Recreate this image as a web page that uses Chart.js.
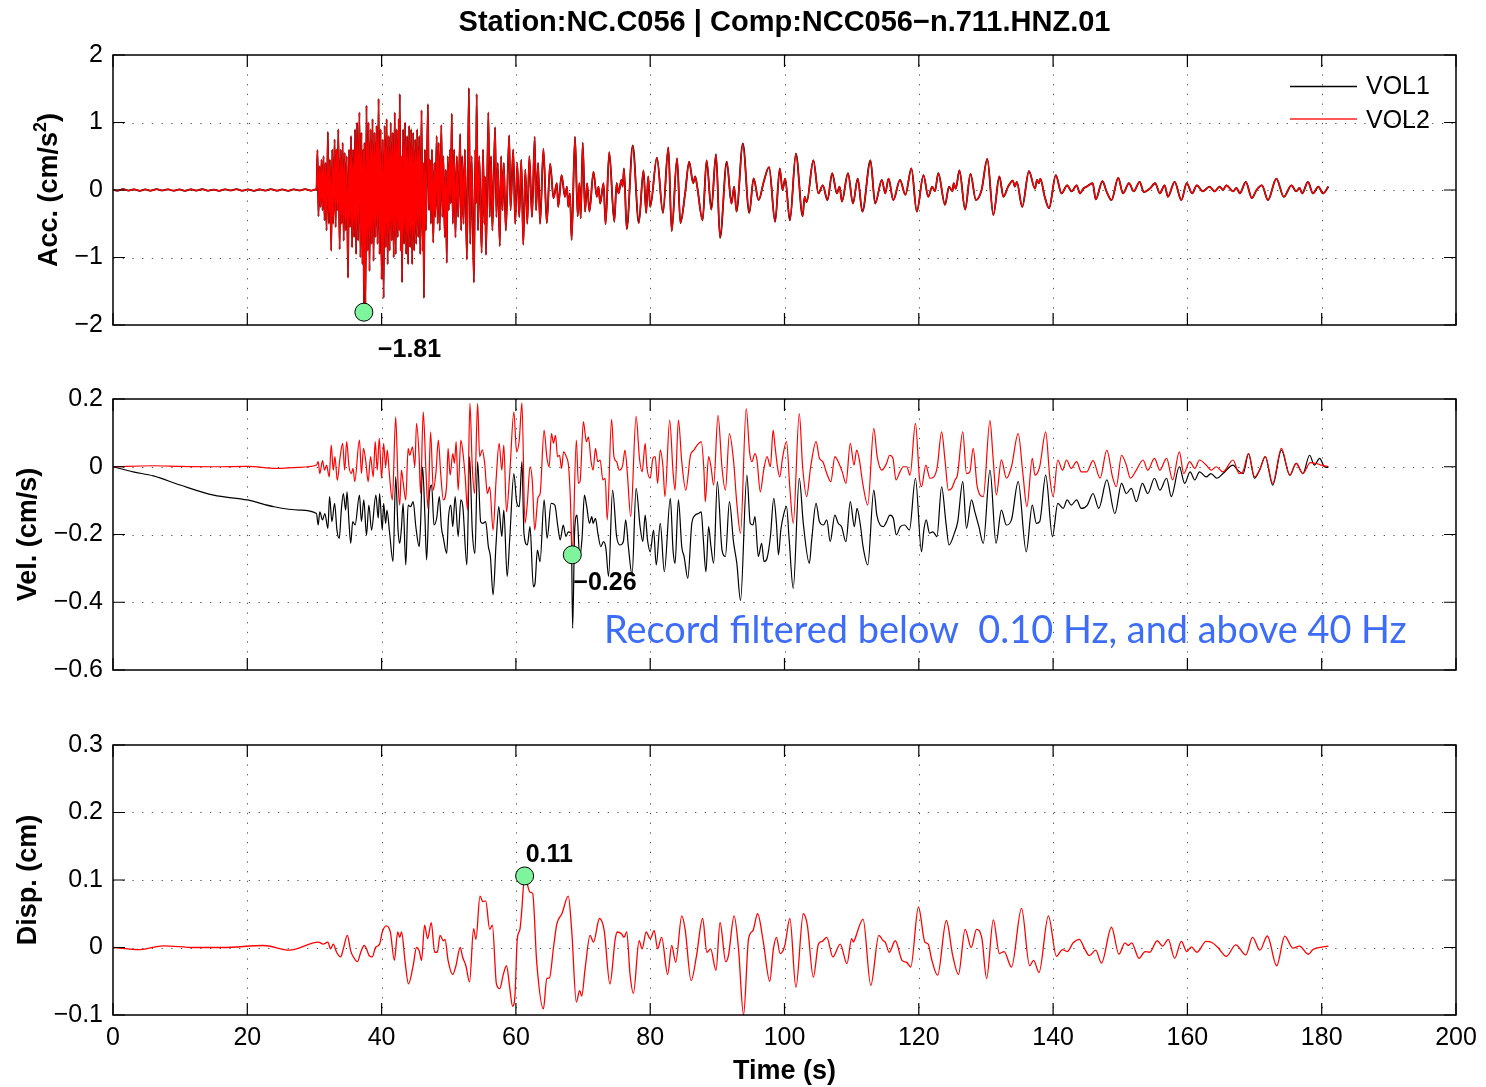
<!DOCTYPE html>
<html><head><meta charset="utf-8">
<script src="https://cdn.jsdelivr.net/npm/chart.js@4.4.1/dist/chart.umd.min.js"></script>
<style>
html,body{margin:0;padding:0;background:#fff;width:1486px;height:1087px;overflow:hidden;}
canvas{position:absolute;left:0;}
</style></head><body>
<canvas id="cAcc" width="1486" height="370" style="top:0px;width:1486px;height:370px"></canvas>
<canvas id="cVel" width="1486" height="345" style="top:370px;width:1486px;height:345px"></canvas>
<canvas id="cDisp" width="1486" height="372" style="top:715px;width:1486px;height:372px"></canvas>
<script>
// ---------- tick labels ----------
const timeTicks = [0,20,40,60,80,100,120,140,160,180,200];
const accTicks  = [-2,-1,0,1,2];
const velTicks  = [-0.6,-0.4,-0.2,0,0.2];
const dispTicks = [-0.1,0,0.1,0.2,0.3];

// ---------- text ----------
const titleText = 'Station:NC.C056 | Comp:NCC056\u2212n.711.HNZ.01';
const seriesNames = ['VOL1','VOL2'];
const noteText = 'Record filtered below  0.10 Hz, and above 40 Hz';

// ---------- peaks [time, value] ----------
const peakAcc  = [37.36, -1.81];
const peakVel  = [68.4, -0.26];
const peakDisp = [61.3, 0.106];

// ---------- acceleration (cm/s^2), [time, value] ----------
// VOL1 and VOL2 acceleration traces coincide in the picture (black only peeks out under the red)
const accVol2 = [
[0,0.005],[0.7,-0.01],[1.5,0.012],[2.3,-0.008],[3.1,0.01],[4,-0.012],[4.8,0.008],[5.6,-0.01],[6.5,0.012],[7.3,-0.006],
[8.2,0.01],[9,-0.01],[9.9,0.008],[10.7,-0.012],[11.6,0.01],[12.4,-0.008],[13.3,0.012],[14.1,-0.01],[15,0.006],[15.8,-0.012],
[16.7,0.01],[17.5,-0.006],[18.4,0.012],[19.2,-0.01],[20.1,0.008],[21,-0.012],[21.8,0.01],[22.7,-0.008],[23.5,0.012],[24.4,-0.01],
[25.2,0.008],[26.1,-0.012],[26.9,0.01],[27.8,-0.006],[28.6,0.012],[29.5,-0.01],[30.2,0.01],
[30.3,0],[30.45,0.59],[30.6,-0.39],[30.75,0.35],[30.9,-0.25],[31.05,0.45],[31.2,-0.3],[31.35,0.5],[31.5,-0.45],[31.65,0.4],
[31.8,-0.6],[32.0,0.86],[32.15,-0.5],[32.3,0.45],[32.5,-0.9],[32.65,0.6],[32.8,-0.5],[33.0,0.75],[33.15,-0.55],[33.3,0.6],
[33.45,-0.3],[33.55,0.9],[33.75,-0.88],[33.9,0.6],[34.05,-0.5],[34.2,0.7],[34.35,-0.75],[34.5,0.55],[34.65,-0.6],[34.8,0.5],
[35.0,-1.3],[35.15,0.6],[35.3,-0.55],[35.45,0.8],[35.6,-0.85],[35.75,0.6],[35.9,-0.7],[36.05,0.9],[36.2,-0.95],[36.35,1.0],
[36.5,-0.75],[36.7,1.15],[36.85,-1.0],[37.0,0.85],[37.15,-1.1],[37.28,0.6],[37.36,-1.81],[37.45,0.7],[37.6,-1.75],[37.75,1.25],
[37.9,-0.9],[38.05,1.0],[38.2,-1.2],[38.35,0.9],[38.5,-0.8],[38.65,1.05],[38.8,-1.05],[38.95,0.85],[39.1,-0.7],[39.25,0.95],
[39.4,-0.8],[39.55,1.35],[39.7,-0.95],[39.85,0.9],[40.0,-1.32],[40.15,0.75],[40.3,-1.6],[40.45,0.95],[40.6,-0.85],[40.75,1.05],
[40.9,-1.1],[41.05,0.8],[41.2,-0.9],[41.35,1.0],[41.5,-0.75],[41.65,0.85],[41.8,-1.0],[41.95,1.15],[42.1,-0.95],[42.25,0.9],
[42.4,-0.7],[42.55,1.05],[42.62,-0.6],[42.7,1.42],[42.85,-0.9],[42.95,0.5],[43.05,-1.37],[43.2,0.9],[43.35,-0.8],[43.5,1.0],
[43.65,-0.95],[43.8,0.8],[43.95,-1.1],[44.1,0.95],[44.25,-0.85],[44.4,0.9],[44.55,-1.1],[44.7,0.85],[44.85,-0.9],[45.0,0.75],
[45.15,-0.8],[45.3,0.9],[45.45,-0.7],[45.6,0.8],[45.75,-0.95],[45.95,1.18],[46.1,-0.9],[46.2,0.4],[46.3,-1.6],[46.45,0.6],
[46.6,-0.6],[46.9,1.27],[47.05,-0.3],[47.2,0.45],[47.35,-0.5],[47.5,0.6],[47.7,-0.78],[47.85,0.4],[48.0,-0.4],[48.2,0.8],
[48.35,-0.5],[48.5,0.7],[48.65,-0.6],[48.9,0.96],[49.05,-0.4],[49.2,0.5],[49.4,-0.7],[49.55,0.3],[49.7,-1.08],[49.85,0.5],
[50.0,-0.3],[50.2,0.6],[50.3,-0.2],[50.45,1.13],[50.6,-0.5],[50.8,0.6],[51.0,-0.7],[51.2,0.5],[51.4,-0.4],[51.7,0.83],
[51.85,-0.6],[52.0,0.5],[52.2,-0.5],[52.4,0.6],[52.7,-1.03],[53.0,1.51],[53.2,-0.8],[53.4,0.5],[53.75,-1.37],[53.95,0.6],
[54.05,-0.2],[54.15,1.42],[54.35,-0.6],[54.55,0.5],[54.9,-0.93],[55.1,0.6],[55.3,-0.5],[55.4,0.2],[55.55,-0.96],[55.9,1.15],
[56.1,-0.4],[56.3,0.5],[56.5,-0.6],[56.9,0.93],[57.1,-0.4],[57.3,0.4],[57.6,-0.83],[57.8,0.5],[58.0,-0.3],[58.2,0.4],
[58.5,-0.6],[59.0,0.81],[59.2,-0.3],[59.6,0.6],[59.9,-0.5],[60.2,0.4],[60.5,-0.4],[60.8,0.45],[61.1,-0.81],[61.4,0.3],
[61.7,-0.5],[62.0,0.5],[62.4,-0.4],[62.8,0.79],[63.0,-0.3],[63.3,0.4],[63.6,-0.5],[64.1,0.61],[64.6,-0.49],[65.1,0.39],
[65.6,-0.12],[66.1,0.1],[66.3,-0.25],[66.8,0.22],[67.3,-0.1],[67.6,0.05],[67.8,-0.25],[68.05,-0.05],[68.3,-0.74],[68.8,0.79],
[69.2,-0.39],[69.45,0.1],[69.65,-0.42],[69.95,0.7],[70.3,-0.32],[70.6,0.1],[70.95,-0.32],[71.55,0.27],[72.05,-0.1],[72.3,0.05],
[72.55,-0.2],[73.05,0.1],[73.35,-0.51],[73.9,0.56],[74.65,-0.47],[75.0,0.1],[75.3,-0.05],[75.7,0.15],[75.9,0.05],[76.1,0.32],
[76.5,-0.58],[77.4,0.66],[78.3,-0.49],[79.0,0.29],[79.4,-0.34],[79.7,0.2],[80.0,-0.25],[81.0,0.48],[81.9,-0.34],[82.7,0.63],
[83.2,-0.61],[84.0,0.47],[84.5,-0.49],[85.2,-0.05],[85.8,0.42],[86.4,0.1],[86.7,0.2],[87.0,0.05],[87.8,-0.45],[88.4,0.44],
[89.1,-0.29],[89.8,0.53],[90.4,-0.71],[91.4,0.42],[92.1,-0.2],[92.5,0.05],[92.85,-0.32],[93.8,0.69],[94.75,-0.34],[95.4,0.17],
[96.15,-0.15],[96.9,0.12],[97.7,0.34],[98.6,-0.47],[99.3,0.32],[99.7,0.0],[100.1,0.17],[100.8,-0.45],[101.7,0.54],[102.7,-0.39],
[103.0,-0.1],[103.3,-0.18],[104.3,0.44],[105.05,-0.05],[105.7,0.07],[106.4,-0.15],[107.1,0.25],[107.8,-0.05],[108.2,0.05],[108.55,-0.17],
[109.45,0.25],[110.2,-0.2],[110.9,0.17],[111.6,-0.32],[112.8,0.44],[113.5,-0.2],[114.5,0.15],[115.0,-0.05],[115.5,0.17],[116.2,-0.15],
[117.2,0.15],[118.0,-0.07],[118.9,0.32],[119.7,-0.32],[120.7,0.22],[121.4,-0.1],[122.0,0.05],[122.4,-0.02],[122.9,0.25],[123.9,-0.22],
[124.5,0.05],[125.0,-0.02],[125.2,0.1],[125.5,0.02],[126.05,0.29],[126.9,-0.29],[127.7,0.24],[128.5,-0.15],[129.35,0.0],[130.2,0.46],
[131.1,-0.37],[132.0,0.2],[132.6,-0.1],[133.3,0.05],[134.0,0.14],[134.3,0.05],[134.6,0.12],[135.4,-0.25],[136.4,0.28],[137.3,0.02],
[137.6,0.15],[137.9,0.1],[138.1,0.17],[138.75,-0.1],[139.4,-0.27],[140.4,0.22],[141.25,-0.05],[142.1,0.07],[142.75,-0.02],[143.5,0.07],
[144.0,-0.05],[144.5,0.02],[145.0,0.05],[145.9,0.1],[146.35,-0.14],[147.35,0.13],[147.95,-0.02],[148.7,-0.15],[149.7,0.18],[150.4,-0.05],
[151.3,0.1],[152.0,-0.02],[152.9,0.12],[153.5,-0.03],[154.4,0.02],[155.2,0.1],[155.9,-0.05],[156.6,0.07],[157.1,-0.1],[158.1,0.12],
[159.1,-0.15],[159.9,0.1],[160.7,-0.05],[161.4,0.07],[162.3,-0.02],[163.3,0.05],[164.05,-0.02],[164.8,0.05],[165.3,0.0],[165.8,0.07],
[166.8,-0.02],[167.3,0.03],[167.8,-0.05],[168.7,0.12],[169.6,-0.12],[170.3,0.0],[171.1,0.07],[172.0,-0.15],[173.25,0.17],[174.35,-0.1],
[175.5,0.07],[176.2,-0.02],[176.7,0.03],[177.1,-0.05],[177.95,0.12],[178.7,-0.05],[179.5,0.05],[180.2,-0.05],[181.0,0.05]
];
const accVol1 = accVol2;

// ---------- velocity (cm/s) ----------
const velVol1 = [
[0,0],[3,-0.015],[6,-0.027],[10,-0.054],[15,-0.084],[20,-0.098],[24,-0.118],[27.8,-0.128],[30.3,-0.138],[30.55,-0.172],
[30.8,-0.133],[31.2,-0.157],[31.55,-0.138],[32.0,-0.182],[32.25,-0.088],[32.6,-0.162],[33.0,-0.108],[33.35,-0.187],[33.7,-0.211],[34.0,-0.128],
[34.3,-0.079],[34.65,-0.128],[34.85,-0.074],[35.15,-0.167],[35.4,-0.226],[35.7,-0.162],[36.05,-0.172],[36.7,-0.084],[37.0,-0.162],[37.35,-0.098],
[37.75,-0.202],[38.1,-0.113],[38.5,-0.187],[39.15,-0.084],[39.5,-0.152],[39.7,-0.079],[40.1,-0.187],[40.3,-0.108],[40.6,-0.167],[40.8,-0.128],
[41.2,-0.197],[41.7,-0.28],[42.1,-0.029],[42.45,-0.187],[42.7,-0.226],[42.95,-0.182],[43.2,-0.108],[43.6,-0.29],[43.95,-0.113],[44.3,-0.118],
[44.7,-0.103],[45.1,-0.177],[45.6,-0.236],[45.8,-0.172],[46.1,0],[46.45,-0.147],[46.7,-0.275],[47.1,-0.084],[47.45,-0.054],[47.8,-0.172],
[48.2,-0.152],[48.6,-0.088],[48.9,-0.177],[49.2,-0.211],[49.7,-0.256],[49.95,-0.152],[50.3,-0.113],[50.6,-0.177],[50.95,-0.088],[51.4,-0.206],
[51.8,-0.098],[52.1,-0.118],[52.7,-0.29],[53.1,0.03],[53.5,-0.187],[53.9,-0.256],[54.3,0.015],[54.75,-0.162],[55.1,-0.167],[55.5,-0.162],
[55.9,-0.236],[56.2,-0.265],[56.6,-0.378],[57.05,-0.226],[57.45,-0.118],[57.9,-0.206],[58.2,-0.128],[58.7,-0.324],[59.1,-0.206],[59.7,-0.02],
[60.1,-0.103],[60.5,-0.118],[60.9,0.015],[61.2,-0.197],[61.7,-0.231],[62.1,-0.177],[62.6,-0.354],[62.85,-0.344],[63.2,-0.246],[63.6,-0.28],
[64.2,-0.098],[64.65,-0.211],[65.25,-0.108],[65.8,-0.113],[66.25,-0.177],[66.6,-0.216],[67.05,-0.172],[67.45,-0.206],[67.8,-0.192],[68.25,-0.196],
[68.45,-0.477],[68.75,-0.187],[69.1,-0.143],[69.5,-0.265],[69.85,-0.211],[70.2,-0.084],[70.55,-0.118],[70.95,-0.167],[71.3,-0.147],[71.5,-0.167],
[71.85,-0.152],[72.2,-0.196],[72.65,-0.236],[73.05,-0.221],[73.4,-0.241],[73.8,-0.324],[74.4,-0.069],[75.0,-0.206],[75.5,-0.231],[76.0,-0.221],
[76.35,-0.157],[76.75,-0.236],[77.3,-0.319],[77.9,-0.064],[78.5,-0.177],[78.9,-0.221],[79.25,-0.143],[79.6,-0.216],[80.0,-0.251],[80.5,-0.187],
[80.9,-0.29],[81.5,-0.167],[82.1,-0.31],[83.0,-0.093],[83.4,-0.246],[83.7,-0.285],[84.2,-0.098],[84.7,-0.236],[85.05,-0.265],[85.6,-0.329],
[86.2,-0.167],[86.7,-0.143],[87.2,-0.138],[87.6,-0.133],[87.9,-0.211],[88.3,-0.31],[88.7,-0.177],[89.05,-0.236],[89.45,-0.285],[90.0,-0.044],
[90.7,-0.246],[91.2,-0.265],[91.8,-0.103],[92.4,-0.221],[92.9,-0.285],[93.45,-0.395],[94.4,-0.025],[94.9,-0.167],[95.3,-0.172],[95.6,-0.147],
[96.1,-0.265],[96.6,-0.226],[96.95,-0.28],[97.4,-0.27],[97.9,-0.206],[98.4,-0.093],[98.8,-0.167],[99.1,-0.26],[99.45,-0.187],[99.85,-0.143],
[100.3,-0.118],[100.7,-0.216],[101.3,-0.359],[102.2,-0.034],[102.8,-0.167],[103.7,-0.285],[104.05,-0.216],[104.7,-0.108],[105.2,-0.162],[105.8,-0.172],
[106.3,-0.157],[106.8,-0.221],[107.5,-0.143],[108.0,-0.167],[108.5,-0.177],[109.15,-0.221],[109.8,-0.103],[110.4,-0.177],[110.8,-0.123],[111.3,-0.172],
[111.7,-0.236],[112.4,-0.29],[113.3,-0.069],[113.75,-0.143],[114.25,-0.172],[114.75,-0.177],[115.2,-0.162],[115.7,-0.143],[116.2,-0.152],[116.65,-0.201],
[117.25,-0.177],[117.9,-0.172],[118.6,-0.187],[119.5,-0.034],[120.4,-0.251],[120.75,-0.187],[121.1,-0.157],[121.6,-0.196],[122.1,-0.192],[122.7,-0.206],
[123.4,-0.059],[124.05,-0.167],[124.5,-0.231],[125.3,-0.196],[125.8,-0.162],[126.55,-0.044],[127.1,-0.182],[127.85,-0.098],[128.35,-0.133],[128.95,-0.177],
[129.6,-0.226],[130.6,-0.01],[131.5,-0.226],[132.3,-0.128],[133.05,-0.172],[133.8,-0.157],[134.8,-0.044],[136.0,-0.251],[136.9,-0.113],[137.5,-0.167],
[138.0,-0.162],[138.9,-0.025],[139.9,-0.206],[140.7,-0.108],[141.5,-0.123],[142.1,-0.098],[142.7,-0.113],[143.5,-0.098],[144.2,-0.123],[145.1,-0.113],
[145.95,-0.079],[146.8,-0.123],[148.0,-0.039],[149.2,-0.138],[150.2,-0.049],[150.9,-0.079],[151.65,-0.064],[152.4,-0.103],[153.3,-0.049],[154.1,-0.079],
[155.1,-0.034],[155.9,-0.069],[156.9,-0.034],[157.6,-0.088],[158.8,0],[159.6,-0.049],[160.4,-0.015],[161.1,-0.039],[161.8,-0.015],[162.8,-0.03],
[163.5,-0.02],[164.4,-0.034],[165.3,-0.02],[166.8,0.005],[167.5,-0.01],[168.3,-0.02],[169.1,0.039],[170.0,-0.034],[170.75,-0.01],[171.6,0.03],
[172.7,-0.054],[174.0,0.049],[175.25,-0.025],[176.2,0.01],[177.2,-0.02],[178.2,0.034],[178.9,0.005],[179.7,0.025],[180.4,0],[181.0,-0.002]
];
const velVol2 = [
[0,0],[6,0.003],[10,0.001],[15,0],[20,0.001],[24.3,-0.005],[27.5,-0.002],[30.3,0.005],[30.55,0.015],[30.8,-0.02],
[31.2,0.018],[31.5,-0.01],[31.8,0.005],[32.2,-0.03],[32.5,0.064],[32.8,-0.01],[33.05,0.03],[33.4,-0.04],[33.8,0.025],[34.2,0.069],
[34.5,-0.01],[34.8,0.074],[35.15,0],[35.5,-0.02],[35.75,-0.005],[36.0,-0.044],[36.7,0.079],[37.0,-0.02],[37.3,0.054],[37.65,0.015],
[38.0,-0.044],[38.35,0.03],[38.75,-0.03],[39.05,0.074],[39.35,-0.01],[39.65,0.084],[40.0,-0.034],[40.3,0.069],[40.6,0],[40.85,0.049],
[41.15,-0.02],[41.6,-0.098],[42.1,0.147],[42.45,-0.049],[42.7,-0.113],[42.95,-0.01],[43.2,-0.044],[43.6,-0.098],[43.95,0.054],[44.2,0.034],
[44.6,0.059],[44.95,0],[45.2,0.128],[45.6,0.025],[45.8,-0.079],[46.2,0.162],[46.6,-0.01],[46.9,-0.123],[47.3,0.103],[47.7,-0.069],
[48.1,-0.015],[48.45,0.079],[48.8,-0.02],[49.2,-0.098],[49.7,-0.049],[49.9,0.054],[50.2,-0.025],[50.6,0.039],[50.85,0.01],[51.1,0.074],
[51.4,-0.069],[51.8,0.079],[52.1,0.044],[52.45,-0.03],[52.8,-0.128],[53.15,0.187],[53.5,0],[53.85,-0.079],[54.3,0.187],[54.6,0.03],
[55.0,0.05],[55.35,0.01],[55.75,-0.079],[56.1,-0.059],[56.6,-0.187],[57.05,-0.039],[57.5,0.069],[57.9,-0.01],[58.2,0.064],[58.6,-0.133],
[59.1,-0.015],[59.7,0.162],[60.1,0.044],[60.5,0.079],[60.9,0.189],[61.35,-0.167],[61.7,-0.108],[62.1,0],[62.45,-0.044],[62.8,-0.187],
[63.3,-0.09],[63.6,-0.08],[64.2,0.108],[64.6,0.03],[64.95,0],[65.3,0.098],[65.6,0.07],[65.9,0.093],[66.2,0.03],[66.5,0.034],
[66.8,-0.005],[67.1,0.044],[67.5,0.03],[67.85,0],[68.1,-0.088],[68.4,-0.26],[69.0,0.079],[69.3,-0.049],[69.55,-0.044],[70.05,0.133],
[70.5,0.074],[70.8,0.088],[71.2,0.015],[71.5,-0.01],[71.85,0.054],[72.2,0.015],[72.55,0.02],[72.95,-0.039],[73.3,-0.034],[73.6,-0.157],
[74.25,0.14],[74.6,0.03],[75.0,0.015],[75.4,-0.01],[75.9,0.005],[76.25,0.049],[76.6,-0.02],[77.1,-0.147],[77.9,0.149],[78.4,0.025],
[78.8,-0.015],[79.25,0.069],[79.5,0],[80.0,-0.034],[80.4,0.025],[80.75,0.03],[81.1,-0.049],[81.5,0.049],[81.9,0],[82.2,-0.088],
[82.9,0.138],[83.4,-0.015],[83.7,-0.069],[84.2,0.138],[84.7,0.015],[85.3,-0.069],[86.0,0.034],[86.5,0.049],[87.0,0.064],[87.6,0.074],
[88.0,-0.01],[88.2,-0.103],[88.7,0.03],[89.05,0],[89.45,-0.054],[90.1,0.152],[90.7,-0.005],[91.2,-0.069],[91.8,0.098],[92.4,0.02],
[92.9,-0.108],[93.45,-0.197],[94.3,0.172],[94.8,0.044],[95.15,0.015],[95.6,0.039],[95.9,0.02],[96.4,-0.074],[96.9,-0.01],[97.4,0.03],
[97.9,0],[98.3,0.108],[98.6,0.059],[98.95,0],[99.3,-0.03],[99.7,0.025],[100.3,0.074],[100.8,-0.064],[101.3,-0.167],[102.2,0.157],
[102.7,0],[103.3,-0.088],[103.9,0],[104.7,0.074],[105.2,0.025],[105.7,0.015],[106.3,-0.02],[106.9,-0.044],[107.5,0.03],[108.0,0.015],
[108.6,-0.015],[109.15,-0.049],[109.8,0.069],[110.35,0.005],[110.75,0.049],[111.15,0.02],[111.65,-0.049],[112.4,-0.113],[113.3,0.113],[113.8,0.03],
[114.5,-0.01],[115.2,0.01],[115.65,0.034],[116.15,0.025],[116.6,-0.039],[117.2,-0.015],[117.7,0],[118.2,0],[118.7,-0.025],[119.5,0.128],
[120.1,-0.034],[120.4,-0.059],[121.05,0.005],[121.65,-0.034],[122.25,-0.03],[122.75,0],[123.4,0.103],[123.9,0.02],[124.4,-0.069],[124.9,-0.064],
[125.4,-0.039],[125.75,-0.025],[126.55,0.103],[127.1,-0.02],[127.6,-0.015],[128.1,0.054],[128.7,-0.059],[129.6,-0.088],[130.6,0.136],[131.05,0.03],
[131.55,-0.083],[132.3,0.02],[133.05,-0.034],[133.8,0],[134.8,0.098],[135.5,-0.02],[136.1,-0.118],[136.9,0.025],[137.3,-0.025],[138.0,0],
[138.9,0.103],[139.5,-0.03],[140.0,-0.088],[140.7,0.02],[141.4,-0.01],[142.0,0.02],[142.7,-0.005],[143.5,0.015],[144.2,-0.015],[145.0,-0.015],
[145.95,0.018],[147.0,-0.034],[148.0,0.049],[148.85,-0.03],[149.4,-0.059],[150.2,0.034],[150.9,0.005],[151.5,-0.034],[152.4,-0.01],[153.4,0.02],
[154.1,-0.01],[155.1,0.025],[155.9,-0.01],[156.9,0.025],[157.8,-0.039],[158.8,0.044],[159.45,-0.02],[160.35,0.015],[161.1,-0.005],[161.8,0.02],
[162.8,0.005],[163.55,-0.01],[164.3,0],[165.3,-0.015],[166.8,0.02],[167.7,-0.02],[168.25,-0.015],[169.1,0.039],[170.0,-0.03],[170.75,-0.01],
[171.6,0.03],[172.7,-0.049],[174.0,0.054],[175.25,-0.025],[176.2,0.01],[177.2,-0.02],[178.3,0.012],[179.1,0.01],[179.9,0.005],[181.0,0]
];

// ---------- displacement (cm) ----------
const dispVol2 = [
[0,0],[4,-0.003],[7.5,0.0025],[12,0],[16.4,0],[22.4,0.003],[26.3,-0.004],[30.6,0.008],[31.3,0.005],[32.0,0.008],
[32.4,-0.002],[32.8,0.005],[33.3,-0.007],[33.9,-0.014],[34.3,-0.002],[34.9,0.018],[35.4,-0.005],[35.8,-0.014],[36.4,-0.021],[36.9,-0.007],
[37.4,0.003],[37.75,-0.002],[38.15,-0.012],[38.6,-0.014],[39.1,0],[39.7,0.005],[40.1,0.023],[40.7,0.032],[41.3,0.023],[41.9,-0.019],
[42.4,0.023],[42.7,0.015],[42.97,0.023],[43.5,-0.021],[44.0,-0.054],[44.7,-0.027],[45.2,0],[45.6,-0.005],[45.95,-0.019],[46.4,0.033],
[46.85,0.013],[47.4,0.037],[47.9,-0.007],[48.3,-0.007],[48.7,0.018],[49.2,0.01],[49.45,0.012],[49.9,-0.019],[50.6,-0.04],[51.07,-0.027],
[51.7,0],[52.06,-0.014],[52.55,-0.027],[53.1,-0.051],[53.7,0.028],[54.05,0.012],[54.65,0.076],[55.1,0.068],[55.5,0.069],[56.1,0.027],
[56.5,0.033],[57.1,-0.054],[57.6,-0.061],[58.1,-0.041],[58.6,-0.027],[59.1,-0.061],[59.5,-0.087],[59.86,-0.071],[60.2,0.012],[60.6,0.027],
[60.85,0.052],[61.3,0.106],[62.1,0.082],[62.5,0.08],[63.1,-0.022],[64.1,-0.091],[64.6,-0.046],[65.0,-0.045],[65.6,0],[66.1,0.035],
[66.85,0.05],[67.8,0.076],[68.3,0.027],[69.0,-0.081],[69.5,-0.064],[69.8,-0.072],[70.3,-0.032],[71.05,0.018],[71.55,0.008],[72.45,0.043],
[73.15,0.025],[74.0,-0.054],[74.8,0.013],[75.1,0.023],[75.75,0.02],[76.1,0.015],[76.5,0.023],[77.0,-0.04],[77.5,-0.068],[78.35,0.01],
[78.8,-0.002],[79.4,0.023],[80.0,0.013],[80.6,0.025],[81.1,-0.002],[81.7,0.015],[82.6,-0.04],[83.2,0.003],[83.8,-0.022],[84.7,0.047],
[85.2,0.027],[86.1,-0.049],[86.9,-0.012],[87.8,0.043],[88.45,-0.007],[89.0,-0.002],[89.8,-0.034],[90.4,0.037],[91.25,-0.021],[91.65,-0.012],
[92.5,0.047],[93.15,-0.002],[93.9,-0.1],[94.65,0.013],[95.3,0.025],[96.0,0.05],[96.85,0.008],[97.8,-0.05],[98.35,-0.002],[98.8,0.015],
[99.35,-0.009],[100.05,0.003],[100.8,0.043],[101.7,-0.059],[102.8,0.05],[103.4,0.033],[104.3,-0.044],[105.05,0.005],[105.6,0.009],[106.3,0.015],
[107.2,-0.014],[108.3,0.005],[109.3,-0.024],[110.0,0.013],[110.25,0.008],[110.5,0.013],[111.7,0.042],[112.85,-0.056],[114.05,0.018],[114.7,0.01],
[115.0,0.008],[115.6,-0.007],[116.5,0.01],[117.5,-0.019],[118.2,-0.022],[118.8,-0.029],[119.95,0.06],[120.9,0.008],[121.4,0.005],[121.9,-0.017],
[122.8,-0.041],[124.1,0.04],[125.05,-0.012],[125.9,-0.04],[126.9,0.027],[127.8,0],[128.6,0.027],[129.4,0.013],[130.1,-0.046],[131.1,0.041],
[132.0,-0.009],[132.7,-0.006],[133.8,-0.029],[135.3,0.058],[136.5,-0.027],[137.1,-0.019],[137.9,-0.037],[139.3,0.047],[140.5,-0.013],[141.4,-0.003],
[142.1,-0.006],[143.0,0.007],[143.9,0.012],[144.7,-0.002],[145.4,-0.012],[146.35,-0.004],[147.2,-0.023],[148.7,0.03],[149.8,-0.01],[150.7,0.007],
[151.2,0.003],[151.7,0.007],[152.8,-0.016],[153.7,-0.006],[154.4,-0.007],[155.5,0.01],[156.3,0.002],[157.15,0.012],[158.1,-0.016],[159.1,0.009],
[159.9,-0.006],[160.6,0.001],[161.4,-0.007],[162.8,0.009],[163.7,0.007],[164.55,0],[165.8,-0.013],[167.2,0.004],[168.7,-0.011],[169.7,0.015],
[170.8,-0.004],[171.9,0.017],[173.3,-0.027],[174.5,0.017],[175.7,-0.001],[176.7,0.002],[178.0,-0.01],[178.7,-0.003],[181.0,0.002]
];

// ---------- helpers ----------
const FONT = '"Liberation Sans", Arial, Helvetica, sans-serif';
const TICK_FONT = 25;
function pts(arr){ return arr.map(p => ({x:p[0], y:p[1]})); }
function fmt(v){ if (Math.abs(v) < 1e-9) return '0'; return String(+(+v).toFixed(2)).replace('-', '\u2212'); }

function lineDs(arr, color, width, order, smooth){
  return { data: pts(arr), borderColor: color, borderWidth: width, pointRadius: 0, fill: false,
    tension: 0, cubicInterpolationMode: smooth ? 'monotone' : 'default', order: order, parsing: false };
}
function markerDs(p){
  return { data: [{x:p[0], y:p[1]}], showLine: false, pointRadius: 9, pointBackgroundColor: '#7ef59c',
    pointBorderColor: '#000', pointBorderWidth: 1, order: 0, parsing: false };
}

function yTitle(ctx, parts, xBase, yc, size){
  ctx.save();
  ctx.translate(xBase, yc); ctx.rotate(-Math.PI/2);
  ctx.fillStyle = '#000'; ctx.textBaseline = 'alphabetic'; ctx.textAlign = 'left';
  let W = 0;
  parts.forEach(p => { ctx.font = 'bold ' + (p.sup ? Math.round(size*0.68) : size) + 'px ' + FONT; p.w = ctx.measureText(p.t).width; W += p.w; });
  let x0 = -W/2;
  parts.forEach(p => { ctx.font = 'bold ' + (p.sup ? Math.round(size*0.68) : size) + 'px ' + FONT; ctx.fillText(p.t, x0, p.sup ? -size*0.42 : 0); x0 += p.w; });
  ctx.restore();
}

function panelPlugin(key, yTicks, extra){
  return {
    id: 'panel_' + key,
    beforeDatasetsDraw(chart){
      const {ctx, chartArea:a, scales:{x, y}} = chart;
      ctx.save();
      ctx.strokeStyle = '#555'; ctx.lineWidth = 1; ctx.setLineDash([1.3, 8.4]);
      timeTicks.forEach(v => {
        const px = Math.round(x.getPixelForValue(v)) + 0.5;
        if (px < a.left + 3 || px > a.right - 3) return;
        ctx.beginPath(); ctx.moveTo(px, a.top); ctx.lineTo(px, a.bottom); ctx.stroke();
      });
      yTicks.forEach(v => {
        const py = Math.round(y.getPixelForValue(v)) + 0.5;
        if (py < a.top + 3 || py > a.bottom - 3) return;
        ctx.beginPath(); ctx.moveTo(a.left, py); ctx.lineTo(a.right, py); ctx.stroke();
      });
      ctx.restore();
    },
    afterDatasetsDraw(chart){
      const {ctx, chartArea:a, scales:{x, y}} = chart;
      ctx.save();
      ctx.setLineDash([]); ctx.strokeStyle = '#000';
      ctx.lineWidth = 1.2;
      const L = 12;
      ctx.beginPath();
      timeTicks.forEach(v => { const px = x.getPixelForValue(v);
        ctx.moveTo(px, a.bottom); ctx.lineTo(px, a.bottom - L); ctx.moveTo(px, a.top); ctx.lineTo(px, a.top + L); });
      yTicks.forEach(v => { const py = y.getPixelForValue(v);
        ctx.moveTo(a.left, py); ctx.lineTo(a.left + L, py); ctx.moveTo(a.right, py); ctx.lineTo(a.right - L, py); });
      ctx.stroke();
      ctx.lineWidth = 1.5;
      ctx.strokeRect(a.left, a.top, a.right - a.left, a.bottom - a.top);
      ctx.restore();
      if (extra) { ctx.save(); extra(chart); ctx.restore(); }
    }
  };
}

function makeChart(id, datasets, yTicks, showX, pad, extra){
  return new Chart(document.getElementById(id), {
    type: 'line',
    data: { datasets },
    options: {
      responsive: false, animation: false, events: [],
      layout: { padding: pad },
      plugins: { legend: {display:false}, tooltip: {enabled:false}, title: {display:false} },
      scales: {
        x: { type: 'linear', min: timeTicks[0], max: timeTicks[timeTicks.length-1],
             afterBuildTicks: s => { s.ticks = timeTicks.map(v => ({value:v})); },
             afterFit: s => { s.height = showX ? 40 : 0; },
             grid: {display:false, drawTicks:false}, border: {display:false},
             ticks: {display: showX, padding: 8, color:'#000', font:{family:FONT, size:TICK_FONT}, maxRotation:0, autoSkip:false, callback: v => fmt(v)} },
        y: { type: 'linear', min: yTicks[0], max: yTicks[yTicks.length-1],
             afterBuildTicks: s => { s.ticks = yTicks.map(v => ({value:v})); },
             afterFit: s => { s.width = 113; },
             grid: {display:false, drawTicks:false}, border: {display:false},
             ticks: {padding: 10, color:'#000', font:{family:FONT, size:TICK_FONT}, autoSkip:false, callback: v => fmt(v)} }
      }
    },
    plugins: [panelPlugin(id, yTicks, extra)]
  });
}

function peakLabel(chart, p, dx, dy){
  const {ctx, scales:{x, y}} = chart;
  ctx.font = 'bold 25px ' + FONT; ctx.fillStyle = '#000'; ctx.textAlign = 'left'; ctx.textBaseline = 'middle';
  ctx.fillText(fmt(+p[1].toFixed(2)), x.getPixelForValue(p[0]) + dx, y.getPixelForValue(p[1]) + dy);
}

// ---------- acceleration panel ----------
makeChart('cAcc', [
  markerDs(peakAcc),
  lineDs(accVol2, '#ff0000', 1.5, 1, true),
  lineDs(accVol1, '#000000', 1.8, 2, true)
], accTicks, false, {left:0, right:30, top:55, bottom:45}, chart => {
  const {ctx, chartArea:a} = chart;
  // title
  ctx.font = 'bold 25px ' + FONT;
  let w = ctx.measureText(titleText).width;
  const fs = Math.max(20, Math.min(30, 25 * 653 / w));
  ctx.font = 'bold ' + fs.toFixed(1) + 'px ' + FONT;
  ctx.fillStyle = '#000'; ctx.textAlign = 'center'; ctx.textBaseline = 'middle';
  ctx.fillText(titleText, (a.left + a.right)/2, 23);
  // y title
  yTitle(ctx, [{t:'Acc. (cm/s'}, {t:'2', sup:true}, {t:')'}], 57, (a.top + a.bottom)/2, 27);
  // legend
  ctx.lineWidth = 1.4;
  ctx.strokeStyle = '#000'; ctx.beginPath(); ctx.moveTo(1290, 86.5); ctx.lineTo(1357, 86.5); ctx.stroke();
  ctx.strokeStyle = '#ff2020'; ctx.beginPath(); ctx.moveTo(1290, 119); ctx.lineTo(1357, 119); ctx.stroke();
  ctx.font = '25px ' + FONT; ctx.fillStyle = '#000'; ctx.textAlign = 'left'; ctx.textBaseline = 'middle';
  ctx.fillText(seriesNames[0], 1366, 87);
  ctx.fillText(seriesNames[1], 1366, 121);
  peakLabel(chart, peakAcc, 14, 38);
});

// ---------- velocity panel ----------
makeChart('cVel', [
  markerDs(peakVel),
  lineDs(velVol2, '#ff0000', 1.2, 1, true),
  lineDs(velVol1, '#000000', 1.2, 2, true)
], velTicks, false, {left:0, right:30, top:29, bottom:45}, chart => {
  const {ctx, chartArea:a} = chart;
  yTitle(ctx, [{t:'Vel. (cm/s)'}], 36, (a.top + a.bottom)/2, 27);
  peakLabel(chart, peakVel, 1, 28);
  let fs = 36;
  ctx.font = fs + 'px Lato, "Open Sans", sans-serif';
  const w = ctx.measureText(noteText).width;
  fs = Math.max(28, Math.min(42, fs * 802 / w));
  ctx.font = fs.toFixed(1) + 'px Lato, "Open Sans", sans-serif';
  ctx.fillStyle = '#3d6cf7'; ctx.textAlign = 'left'; ctx.textBaseline = 'alphabetic';
  ctx.fillText(noteText, 604, 643 - 370);
});

// ---------- displacement panel ----------
makeChart('cDisp', [
  markerDs(peakDisp),
  lineDs(dispVol2, '#ff0000', 1.3, 1, true)
], dispTicks, true, {left:0, right:30, top:30, bottom:32}, chart => {
  const {ctx, chartArea:a} = chart;
  yTitle(ctx, [{t:'Disp. (cm)'}], 36, (a.top + a.bottom)/2, 27);
  peakLabel(chart, peakDisp, 1, -21);
  ctx.font = 'bold 27px ' + FONT; ctx.fillStyle = '#000'; ctx.textAlign = 'center'; ctx.textBaseline = 'alphabetic';
  ctx.fillText('Time (s)', (a.left + a.right)/2, 364);
});
</script>
</body></html>
